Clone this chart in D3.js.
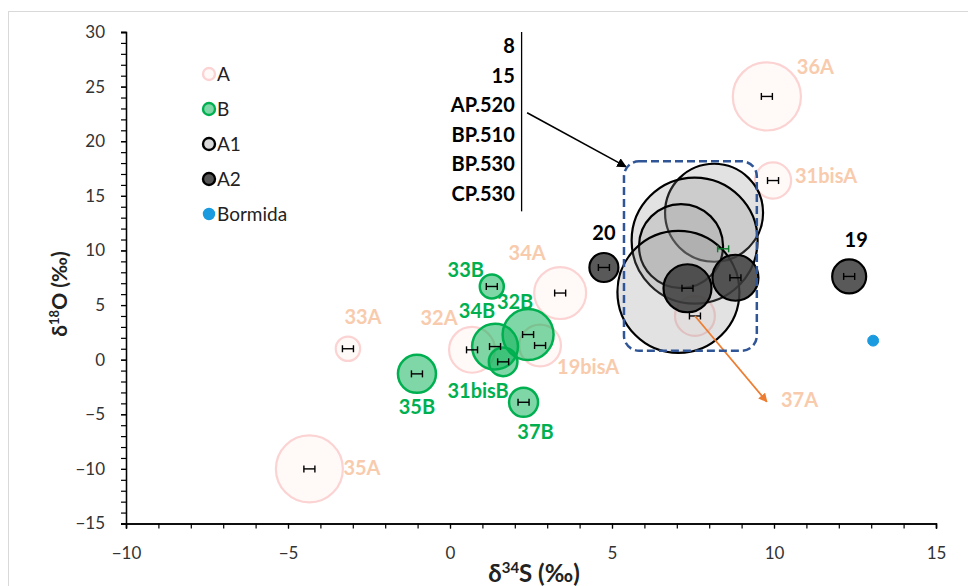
<!DOCTYPE html>
<html><head><meta charset="utf-8">
<script src="https://cdn.jsdelivr.net/npm/d3@7"></script>
<style>
body{margin:0;background:#fff}
svg{display:block}
text{font-family:Lato,"Open Sans",sans-serif}
</style>
</head><body>
<svg id="chart" width="968" height="586"></svg>
<script>
// δ34S (x) and δ18O (y) values, bubble size and sample names per group
const namesA = ["36A", "31bisA", "33A", "35A", "32A", "34A", "19bisA", "37A"];
const xA = [9.78, 9.97, -3.15, -4.34, 0.68, 3.40, 2.78, 7.56];
const yA = [24.1, 16.4, 1.0, -10.0, 0.9, 6.1, 1.3, 4.0];
const sizeA = [11.7, 3.3, 1.5, 11.3, 5.3, 6.8, 4.4, 4.0];

const namesB = ["33B", "34B", "32B", "31bisB", "35B", "37B"];
const xB = [1.29, 1.39, 2.41, 1.64, -1.02, 2.27];
const yB = [6.7, 1.2, 2.3, -0.2, -1.3, -3.9];
const sizeB = [1.45, 5.3, 6.55, 2.06, 3.64, 2.12];

const xA1 = [8.15, 7.55, 7.13, 7.05];
const yA1 = [13.45, 10.9, 10.4, 6.2];
const sizeA1 = [24.2, 40, 17.8, 37.5];

const namesA2 = ["", "", "20", "19"];
const xA2 = [7.33, 8.81, 4.75, 12.32];
const yA2 = [6.54, 7.5, 8.44, 7.62];
const sizeA2 = [5.8, 5.33, 2.12, 2.91];

const xBormida = [13.06];
const yBormida = [1.74];
const sizeBormida = [0.3];

// small green marker inside the cluster
const xMark = [8.43];
const yMark = [10.15];

// samples grouped in the dashed box
const boxNames = ["8", "15", "AP.520", "BP.510", "BP.530", "CP.530"];

const legendNames = ["A", "B", "A1", "A2", "Bormida"];
const xTicks = [-10, -5, 0, 5, 10, 15];
const yTicks = [-15, -10, -5, 0, 5, 10, 15, 20, 25, 30];

// horizontal error half-width (‰)
const errX = 0.17;

// ---- layout ----
const svg = d3.select("#chart");
const x = d3.scaleLinear().domain([-10, 15]).range([126, 936]);
const y = d3.scaleLinear().domain([-15, 30]).range([523.5, 32]);
const r = d3.scaleSqrt().domain([0, 40]).range([0, 63]);

const colA = {fill: "#fffaf8", stroke: "#fcd3d3", text: "#F8CBAD"};
const colB = {fill: "#00B050", stroke: "#00B050", text: "#00B050"};

// label offsets in px relative to each bubble centre
const offA = {
  "36A": [30, -29, "start"], "31bisA": [22, -5, "start"], "33A": [15, -32, "middle"],
  "35A": [34, -1, "start"], "32A": [-33, -32, "middle"], "34A": [-33, -40, "middle"],
  "19bisA": [17, 22, "start"], "37A": [86, 84, "start"]
};
const offB = {
  "33B": [-26, -16], "34B": [-18, -36], "32B": [-13, -33],
  "31bisB": [-25, 29], "35B": [0, 33], "37B": [12, 30]
};
const offA2 = {"20": [0, -34], "19": [7, -36]};

// outer frame
svg.append("rect").attr("x", 8.5).attr("y", 11.5).attr("width", 1000).attr("height", 1000)
  .attr("fill", "none").attr("stroke", "#d9d9d9").attr("stroke-width", 1);

// ---- axes ----
function styleAxis(g) {
  g.select(".domain").attr("stroke", "#000").attr("stroke-width", 1.3);
  g.selectAll(".tick line").attr("stroke", "#000").attr("stroke-width", 1.2);
  g.selectAll(".tick text").attr("fill", "#333").style("font-size", "17px")
    .style("font-family", "Lato, 'Open Sans', sans-serif");
}
const yMinor = svg.append("g").attr("transform", "translate(126,0)")
  .call(d3.axisLeft(y).tickValues(d3.range(-15, 31, 1)).tickSize(5).tickFormat(""));
styleAxis(yMinor);
const yAxis = svg.append("g").attr("transform", "translate(126,0)")
  .call(d3.axisLeft(y).tickValues(yTicks).tickSize(5).tickPadding(16));
styleAxis(yAxis);

const xMinor = svg.append("g").attr("transform", "translate(0,523.5)")
  .call(d3.axisBottom(x).tickValues(d3.range(-10, 16, 1)).tickSize(5).tickFormat(""));
styleAxis(xMinor);
const xAxis = svg.append("g").attr("transform", "translate(0,523.5)")
  .call(d3.axisBottom(x).tickValues(xTicks).tickSize(5).tickPadding(18));
styleAxis(xAxis);

// axis titles
const xt = svg.append("text").attr("x", 534).attr("y", 582).attr("text-anchor", "middle")
  .attr("font-weight", "bold").attr("font-size", 24).attr("fill", "#222");
xt.append("tspan").text("δ");
xt.append("tspan").text("34").attr("font-size", 15).attr("dy", -9);
xt.append("tspan").text("S (‰)").attr("dy", 9);

const yt = svg.append("text").attr("transform", "translate(67,294) rotate(-90)")
  .attr("text-anchor", "middle").attr("font-weight", "bold").attr("font-size", 21).attr("fill", "#222");
yt.append("tspan").text("δ");
yt.append("tspan").text("18").attr("font-size", 13).attr("dy", -8);
yt.append("tspan").text("O (‰)").attr("dy", 8);

// ---- bubbles ----
const plot = svg.append("g");
const dataA = namesA.map((n, i) => ({n, x: xA[i], y: yA[i], s: sizeA[i]}));
const dataB = namesB.map((n, i) => ({n, x: xB[i], y: yB[i], s: sizeB[i]}));
const dataA1 = xA1.map((v, i) => ({x: v, y: yA1[i], s: sizeA1[i]}));
const dataA2 = namesA2.map((n, i) => ({n, x: xA2[i], y: yA2[i], s: sizeA2[i]}));
const dataBor = xBormida.map((v, i) => ({x: v, y: yBormida[i], s: sizeBormida[i]}));

plot.selectAll(".bA").data(dataA).join("circle")
  .attr("cx", d => x(d.x)).attr("cy", d => y(d.y)).attr("r", d => r(d.s))
  .attr("fill", colA.fill).attr("stroke", colA.stroke).attr("stroke-width", 2.2);

plot.selectAll(".bB").data(dataB).join("circle")
  .attr("cx", d => x(d.x)).attr("cy", d => y(d.y)).attr("r", d => r(d.s))
  .attr("fill", colB.fill).attr("fill-opacity", 0.5)
  .attr("stroke", colB.stroke).attr("stroke-width", 2.5);

plot.selectAll(".bA1").data(dataA1).join("circle")
  .attr("cx", d => x(d.x)).attr("cy", d => y(d.y)).attr("r", d => r(d.s))
  .attr("fill", "#8c8c8c").attr("fill-opacity", 0.25)
  .attr("stroke", "#000").attr("stroke-width", 2.2);

plot.selectAll(".bA2").data(dataA2).join("circle")
  .attr("cx", d => x(d.x)).attr("cy", d => y(d.y)).attr("r", d => r(d.s))
  .attr("fill", "#3c3c3c").attr("fill-opacity", 0.85)
  .attr("stroke", "#000").attr("stroke-width", 2.2);

plot.selectAll(".bBor").data(dataBor).join("circle")
  .attr("cx", d => x(d.x)).attr("cy", d => y(d.y)).attr("r", d => r(d.s))
  .attr("fill", "#1a9be0").attr("stroke", "#1a9be0").attr("stroke-width", 1);

// ---- horizontal error bars ----
function errorBars(data, color) {
  const g = plot.append("g").attr("stroke", color).attr("stroke-width", 1.4).attr("fill", "none");
  data.forEach(d => {
    const cy = y(d.y), x0 = x(d.x - errX), x1 = x(d.x + errX);
    g.append("line").attr("x1", x0).attr("x2", x1).attr("y1", cy).attr("y2", cy);
    g.append("line").attr("x1", x0).attr("x2", x0).attr("y1", cy - 3.5).attr("y2", cy + 3.5);
    g.append("line").attr("x1", x1).attr("x2", x1).attr("y1", cy - 3.5).attr("y2", cy + 3.5);
  });
}
errorBars(dataA, "#000");
errorBars(dataB, "#000");
errorBars(dataA2, "#000");
errorBars(xMark.map((v, i) => ({x: v, y: yMark[i]})), "#0a7a2a");

// ---- point labels ----
const lab = svg.append("g").attr("font-weight", "bold").attr("font-size", 20);
dataA.forEach(d => {
  const o = offA[d.n];
  lab.append("text").attr("x", x(d.x) + o[0]).attr("y", y(d.y) + o[1]).attr("dy", "0.35em")
    .attr("text-anchor", o[2]).attr("fill", colA.text).text(d.n);
});
dataB.forEach(d => {
  const o = offB[d.n];
  lab.append("text").attr("x", x(d.x) + o[0]).attr("y", y(d.y) + o[1]).attr("dy", "0.35em")
    .attr("text-anchor", "middle").attr("fill", colB.text).text(d.n);
});
dataA2.filter(d => d.n).forEach(d => {
  const o = offA2[d.n];
  lab.append("text").attr("x", x(d.x) + o[0]).attr("y", y(d.y) + o[1]).attr("dy", "0.35em")
    .attr("text-anchor", "middle").attr("fill", "#000").text(d.n);
});

// ---- annotation: grouped samples, bracket line, arrows, dashed box ----
const defs = svg.append("defs");
defs.append("marker").attr("id", "headBlack").attr("viewBox", "0 0 10 10")
  .attr("refX", 9).attr("refY", 5).attr("markerWidth", 6).attr("markerHeight", 6)
  .attr("markerUnits", "strokeWidth").attr("orient", "auto")
  .append("path").attr("d", "M0,0 L10,5 L0,10 Z").attr("fill", "#000");
defs.append("marker").attr("id", "headOrange").attr("viewBox", "0 0 10 10")
  .attr("refX", 9).attr("refY", 5).attr("markerWidth", 5).attr("markerHeight", 5)
  .attr("markerUnits", "strokeWidth").attr("orient", "auto")
  .append("path").attr("d", "M0,0 L10,5 L0,10 Z").attr("fill", "#ED7D31");

boxNames.forEach((n, i) => {
  lab.append("text").attr("x", x(2.0)).attr("y", y(28.7 - i * 2.7)).attr("dy", "0.35em")
    .attr("text-anchor", "end").attr("fill", "#000").text(n);
});
svg.append("line").attr("x1", x(2.21)).attr("x2", x(2.21)).attr("y1", y(30)).attr("y2", y(13.58))
  .attr("stroke", "#000").attr("stroke-width", 1.3);
svg.append("line").attr("x1", x(2.38)).attr("y1", y(22.6)).attr("x2", x(5.43)).attr("y2", y(17.67))
  .attr("stroke", "#000").attr("stroke-width", 1.6).attr("marker-end", "url(#headBlack)");

const p37 = dataA.find(d => d.n === "37A");
svg.append("line").attr("x1", x(p37.x)).attr("y1", y(p37.y)).attr("x2", x(9.78)).attr("y2", y(-3.85))
  .attr("stroke", "#ED7D31").attr("stroke-width", 1.8).attr("marker-end", "url(#headOrange)");

svg.append("rect").attr("x", x(5.37)).attr("y", y(18.16))
  .attr("width", x(9.47) - x(5.37)).attr("height", y(0.82) - y(18.16))
  .attr("rx", 15).attr("ry", 15).attr("fill", "none")
  .attr("stroke", "#2F5597").attr("stroke-width", 2.5).attr("stroke-dasharray", "8,4");

// ---- legend ----
const legStyles = [
  {fill: "#fffaf8", stroke: "#fcd3d3", r: 6},
  {fill: "#7fd6a6", stroke: "#00B050", r: 6},
  {fill: "#d9d9d9", stroke: "#000", r: 6},
  {fill: "#555", stroke: "#000", r: 6},
  {fill: "#1a9be0", stroke: "#1a9be0", r: 5}
];
const leg = svg.append("g").attr("transform", "translate(209,74)");
legendNames.forEach((n, i) => {
  const gy = i * 35;
  leg.append("circle").attr("cx", 0).attr("cy", gy).attr("r", legStyles[i].r)
    .attr("fill", legStyles[i].fill).attr("stroke", legStyles[i].stroke).attr("stroke-width", 2.4);
  leg.append("text").attr("x", 8).attr("y", gy).attr("dy", "0.36em")
    .attr("font-size", 19).attr("fill", "#222").text(n);
});
</script>
</body></html>
